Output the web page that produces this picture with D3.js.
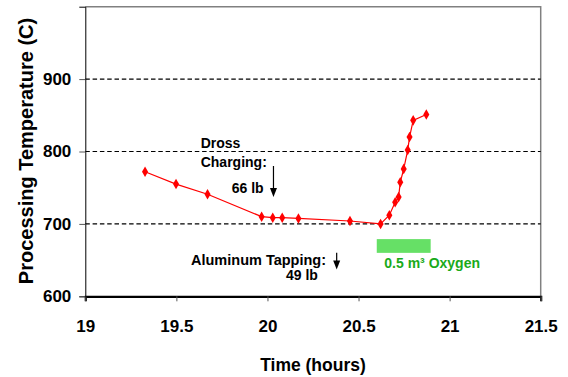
<!DOCTYPE html>
<html>
<head>
<meta charset="utf-8">
<script src="https://cdn.jsdelivr.net/npm/d3@7"></script>
<style>
  body { margin: 0; background: #fff; }
  svg { display: block; font-family: "Liberation Sans", Arial, sans-serif; }
</style>
</head>
<body>
<svg id="chart" width="568" height="377"></svg>
<script>
// Data
const timeHours = [19.328, 19.498, 19.671, 19.968, 20.029, 20.081, 20.170, 20.453, 20.621, 20.669, 20.701, 20.720, 20.729, 20.748, 20.770, 20.780, 20.800, 20.872];
const tempC     = [772, 755, 741, 710, 708.6, 708.6, 707.5, 704, 700, 712, 730, 737, 757.5, 776, 802, 820, 843, 851];
const xTicks = [19, 19.5, 20, 20.5, 21, 21.5];
const yTicks = [600, 700, 800, 900];
const gridValues = [700, 800, 900];

// Annotations (in data units)
const drossLabel = ["Dross", "Charging:", "66 lb"];
const drossArrow = { t: 20.033, from: 780, to: 737 };
const tappingLabel = ["Aluminum Tapping:", "49 lb"];
const tappingArrow = { t: 20.38, from: 660, to: 637 };
const oxygenBar = { t0: 20.60, t1: 20.896, v0: 679, v1: 660 };
const oxygenLabel = "0.5 m³ Oxygen";

const svg = d3.select("#chart");
const x = d3.scaleLinear().domain([19, 21.5]).range([85.3, 540.7]);
const y = d3.scaleLinear().domain([600, 1000]).range([296.3, 6.7]);

// top & right border (gray)
svg.append("path")
  .attr("d", `M${x(19)},${y(1000)}H${x(21.5)}V${y(600)}`)
  .attr("fill", "none").attr("stroke", "#808080").attr("stroke-width", 1.5);

// grid
svg.append("g").selectAll("line").data(gridValues).join("line")
  .attr("x1", x(19)).attr("x2", x(21.5))
  .attr("y1", d => y(d)).attr("y2", d => y(d))
  .attr("stroke", "#000").attr("stroke-width", 1.1).attr("stroke-dasharray", "4.5,2.8");

// axes
const xAxis = svg.append("g").attr("transform", `translate(0,${y(600)})`)
  .call(d3.axisBottom(x).tickValues(xTicks).tickFormat(d3.format("")).tickSizeOuter(0).tickSize(5).tickPadding(19));
xAxis.select(".domain").attr("stroke-width", 2.2);
xAxis.selectAll("text").attr("font-size", 17).attr("font-weight", "bold").attr("fill", "#000");

const yAxis = svg.append("g").attr("transform", `translate(${x(19)},0)`)
  .call(d3.axisLeft(y).tickValues(yTicks).tickSizeOuter(0).tickSize(6).tickPadding(8));
yAxis.selectAll("text").attr("font-size", 17).attr("font-weight", "bold").attr("fill", "#000");
yAxis.selectAll(".tick line").attr("stroke", "#555");
xAxis.selectAll(".tick line").attr("stroke", "#555");

// axis titles
svg.append("text").attr("x", 313).attr("y", 370.5).attr("text-anchor", "middle")
  .attr("font-size", 17.5).attr("font-weight", "bold").text("Time (hours)");
svg.append("text").attr("transform", "translate(32.5,151) rotate(-90)").attr("text-anchor", "middle")
  .attr("font-size", 20).attr("font-weight", "bold").text("Processing Temperature (C)");

// oxygen bar
svg.append("rect")
  .attr("x", x(oxygenBar.t0)).attr("y", y(oxygenBar.v0))
  .attr("width", x(oxygenBar.t1) - x(oxygenBar.t0)).attr("height", y(oxygenBar.v1) - y(oxygenBar.v0))
  .attr("fill", "#66e066");
svg.append("text").attr("x", 384.3).attr("y", 267.7)
  .attr("font-size", 14).attr("font-weight", "bold").attr("fill", "#1aaa1a").text(oxygenLabel);

// line + markers
const line = d3.line().x((d, i) => x(timeHours[i])).y(d => y(d));
svg.append("path").datum(tempC).attr("d", line)
  .attr("fill", "none").attr("stroke", "#ff0000").attr("stroke-width", 1.2);
svg.append("g").selectAll("path").data(tempC).join("path")
  .attr("transform", (d, i) => `translate(${x(timeHours[i])},${y(d)})`)
  .attr("d", d3.symbol(d3.symbolDiamond, 32))
  .attr("fill", "#ff0000");

// arrows
function arrow(a) {
  const ax = x(a.t), y0 = y(a.from), y1 = y(a.to);
  svg.append("line").attr("x1", ax).attr("x2", ax).attr("y1", y0).attr("y2", y1 - 8)
    .attr("stroke", "#000").attr("stroke-width", 1.2);
  svg.append("path").attr("d", `M${ax - 3.5},${y1 - 9}L${ax + 3.5},${y1 - 9}L${ax},${y1}Z`).attr("fill", "#000");
}
arrow(drossArrow);
arrow(tappingArrow);

// annotation texts
const ann = svg.append("g").attr("font-size", 14).attr("font-weight", "bold").attr("fill", "#000");
ann.append("text").attr("x", 200.7).attr("y", 148.3).text(drossLabel[0]);
ann.append("text").attr("x", 200.7).attr("y", 166.5).text(drossLabel[1]);
ann.append("text").attr("x", 231.7).attr("y", 193.3).text(drossLabel[2]);
ann.append("text").attr("x", 191).attr("y", 265).attr("font-size", 14.5).text(tappingLabel[0]);
ann.append("text").attr("x", 286).attr("y", 280.3).text(tappingLabel[1]);
</script>
</body>
</html>
